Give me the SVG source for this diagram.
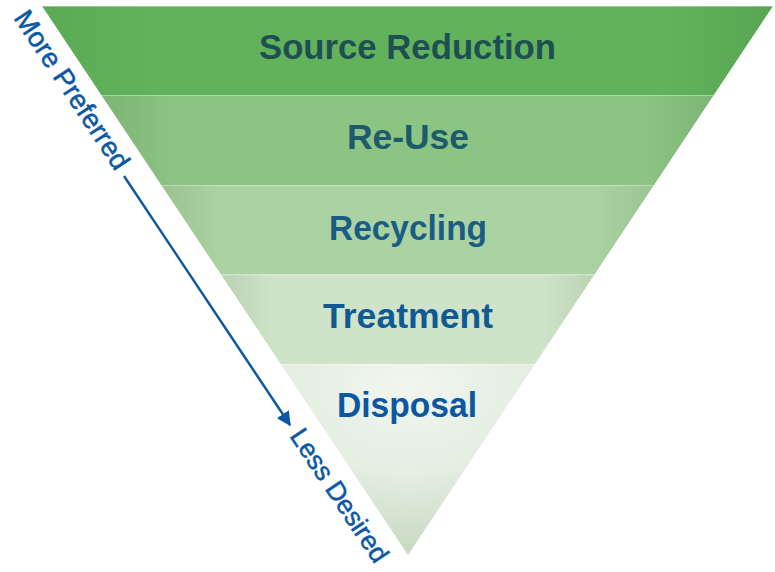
<svg xmlns="http://www.w3.org/2000/svg" width="775" height="572" viewBox="0 0 775 572">
  <defs>
    <linearGradient id="g1" x1="0" y1="0" x2="1" y2="0">
      <stop offset="0" stop-color="#5ba955"/>
      <stop offset="0.15" stop-color="#62b25c"/>
      <stop offset="0.85" stop-color="#62b25c"/>
      <stop offset="1" stop-color="#58a653"/>
    </linearGradient>
    <linearGradient id="g2" x1="0" y1="0" x2="1" y2="0">
      <stop offset="0" stop-color="#7bb474"/>
      <stop offset="0.12" stop-color="#8bc483"/>
      <stop offset="0.88" stop-color="#8bc483"/>
      <stop offset="1" stop-color="#7cb575"/>
    </linearGradient>
    <linearGradient id="g3" x1="0" y1="0" x2="1" y2="0">
      <stop offset="0" stop-color="#9ac391"/>
      <stop offset="0.12" stop-color="#abd2a1"/>
      <stop offset="0.88" stop-color="#abd2a1"/>
      <stop offset="1" stop-color="#9bc492"/>
    </linearGradient>
    <linearGradient id="g4" x1="0" y1="0" x2="1" y2="0">
      <stop offset="0" stop-color="#b8d1b1"/>
      <stop offset="0.14" stop-color="#cfe3c9"/>
      <stop offset="0.86" stop-color="#cfe3c9"/>
      <stop offset="1" stop-color="#bad3b3"/>
    </linearGradient>
    <radialGradient id="g5" cx="0.5" cy="0.1" r="0.95">
      <stop offset="0" stop-color="#f1f6ef"/>
      <stop offset="0.5" stop-color="#e4eee1"/>
      <stop offset="1" stop-color="#c2d5bc"/>
    </radialGradient>
    <marker id="ah" viewBox="0 0 10 10" refX="9" refY="5" markerWidth="6" markerHeight="6" markerUnits="strokeWidth" orient="auto">
      <path d="M0,0 L10,5 L0,10 Z" fill="#0b57a4"/>
    </marker>
    <style>
      .lbl { font-family: "Liberation Sans", Arial, Helvetica, sans-serif; font-weight: bold; font-size: 34.5px; text-anchor: middle; }
      .side { font-family: "Liberation Sans", Arial, Helvetica, sans-serif; font-size: 27.5px; fill: #0b57a4; stroke: #0b57a4; stroke-width: 0.5; }
      .sep { stroke: #ffffff; stroke-opacity: 0.35; stroke-width: 1.2; }
    </style>
  </defs>

  <g id="band-source-reduction">
    <polygon points="42,6 773,6 713.8,95 101.3,95" fill="url(#g1)"/>
    <line class="sep" x1="42" y1="6.5" x2="773" y2="6.5"/>
    <text class="lbl" x="407.5" y="58.5" fill="#1e4f52" textLength="297" lengthAdjust="spacingAndGlyphs">Source Reduction</text>
  </g>
  <g id="band-re-use">
    <polygon points="101.3,95 713.8,95 654,185 161.3,185" fill="url(#g2)"/>
    <line class="sep" x1="101.3" y1="95.5" x2="713.8" y2="95.5"/>
    <text class="lbl" x="408" y="149" fill="#1d5a6b" textLength="122" lengthAdjust="spacingAndGlyphs">Re-Use</text>
  </g>
  <g id="band-recycling">
    <polygon points="161.3,185 654,185 594.5,274.5 221,274.5" fill="url(#g3)"/>
    <line class="sep" x1="161.3" y1="185.5" x2="654" y2="185.5"/>
    <text class="lbl" x="408" y="239.5" fill="#1a5d84" textLength="158" lengthAdjust="spacingAndGlyphs">Recycling</text>
  </g>
  <g id="band-treatment">
    <polygon points="221,274.5 594.5,274.5 535,364 280.7,364" fill="url(#g4)"/>
    <line class="sep" x1="221" y1="275" x2="594.5" y2="275"/>
    <text class="lbl" x="408" y="328" fill="#0f5a94" textLength="170" lengthAdjust="spacingAndGlyphs">Treatment</text>
  </g>
  <g id="band-disposal">
    <polygon points="280.7,364 535,364 408,555" fill="url(#g5)"/>
    <line class="sep" x1="280.7" y1="364.5" x2="535" y2="364.5"/>
    <text class="lbl" x="407" y="417" fill="#0b57a2" textLength="140" lengthAdjust="spacingAndGlyphs">Disposal</text>
  </g>

  <g id="label-more-preferred">
    <text class="side" transform="translate(13,18) rotate(56.3)">More Preferred</text>
  </g>
  <g id="label-less-desired">
    <text class="side" transform="translate(289,436) rotate(56.3)" style="font-size:26.5px">Less Desired</text>
  </g>

  <g id="connectors">
    <line x1="124" y1="176" x2="290" y2="425" stroke="#0b57a4" stroke-width="2.4" marker-end="url(#ah)"/>
  </g>
</svg>
